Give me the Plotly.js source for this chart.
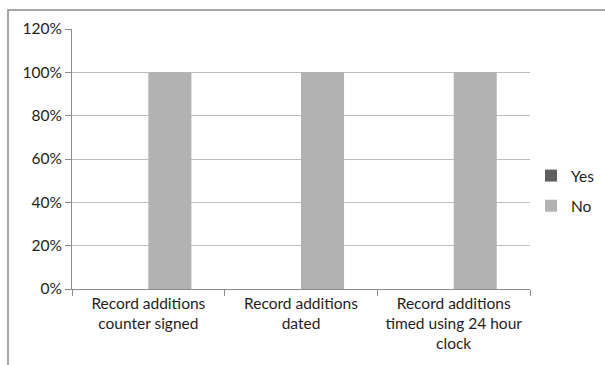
<!DOCTYPE html>
<html><head><meta charset="utf-8">
<script src="https://cdn.plot.ly/plotly-3.0.1.min.js"></script>
<style>html,body{margin:0;padding:0;background:#fff;}#c{width:605px;height:365px;}</style>
</head><body><div id="c"></div>
<script>
const categories = ["Record additions<br>counter signed", "Record additions<br>dated", "Record additions<br>timed using 24 hour<br>clock"];
const yesValues = [0, 0, 0];
const noValues = [1, 1, 1];
const tickVals = [0, 0.2, 0.4, 0.6, 0.8, 1.0, 1.2];
const tickText = ["0%", "20%", "40%", "60%", "80%", "100%", "120%"];

const L = 72, R = 530, T = 29, B = 289, W = 605, H = 365;
const px = x => (x - L) / (R - L);
const py = y => (B - y) / (B - T);

const data = [
  {type: 'bar', name: 'Yes', legendgroup: 'a', x: categories, y: yesValues, marker: {color: '#5f5f5f'}},
  {type: 'bar', name: 'No', legendgroup: 'b', x: categories, y: noValues, marker: {color: '#b2b2b2'}}
];
const layout = {
  width: W, height: H,
  margin: {l: L, r: W - R, t: T, b: H - B, pad: 0, autoexpand: false},
  paper_bgcolor: '#ffffff', plot_bgcolor: '#ffffff',
  font: {family: 'Lato, "Open Sans", sans-serif', size: 15.5, color: '#1e1e1e'},
  barmode: 'group', bargap: 0.436, bargroupgap: 0,
  showlegend: true,
  legend: {x: px(531), y: py(159), xanchor: 'left', yanchor: 'top', font: {size: 15.5, color: '#1e1e1e'},
           itemwidth: 30, tracegroupgap: 7, traceorder: 'grouped', bgcolor: 'rgba(0,0,0,0)'},
  xaxis: {showgrid: false, showline: true, linecolor: '#8c8c8c', linewidth: 1,
          ticks: 'outside', ticklen: 6, tickcolor: '#8c8c8c', tickson: 'boundaries',
          tickfont: {size: 15.5, color: '#1e1e1e'}, fixedrange: true},
  yaxis: {range: [0, 1.2], tickvals: tickVals, ticktext: tickText, showgrid: true,
          gridcolor: '#bdbdbd', gridwidth: 1, showline: true, linecolor: '#8c8c8c', linewidth: 1,
          ticks: 'outside', ticklen: 6, tickcolor: '#8c8c8c', zeroline: false,
          tickfont: {size: 15.5, color: '#1e1e1e'}, fixedrange: true},
  shapes: [
    {type: 'rect', xref: 'paper', yref: 'paper', x0: px(8), x1: px(640), y0: py(10), y1: py(400),
     line: {color: '#8a8a8a', width: 1.5}, layer: 'below'}
  ]
};
Plotly.newPlot('c', data, layout, {displayModeBar: false, staticPlot: true});
</script></body></html>
